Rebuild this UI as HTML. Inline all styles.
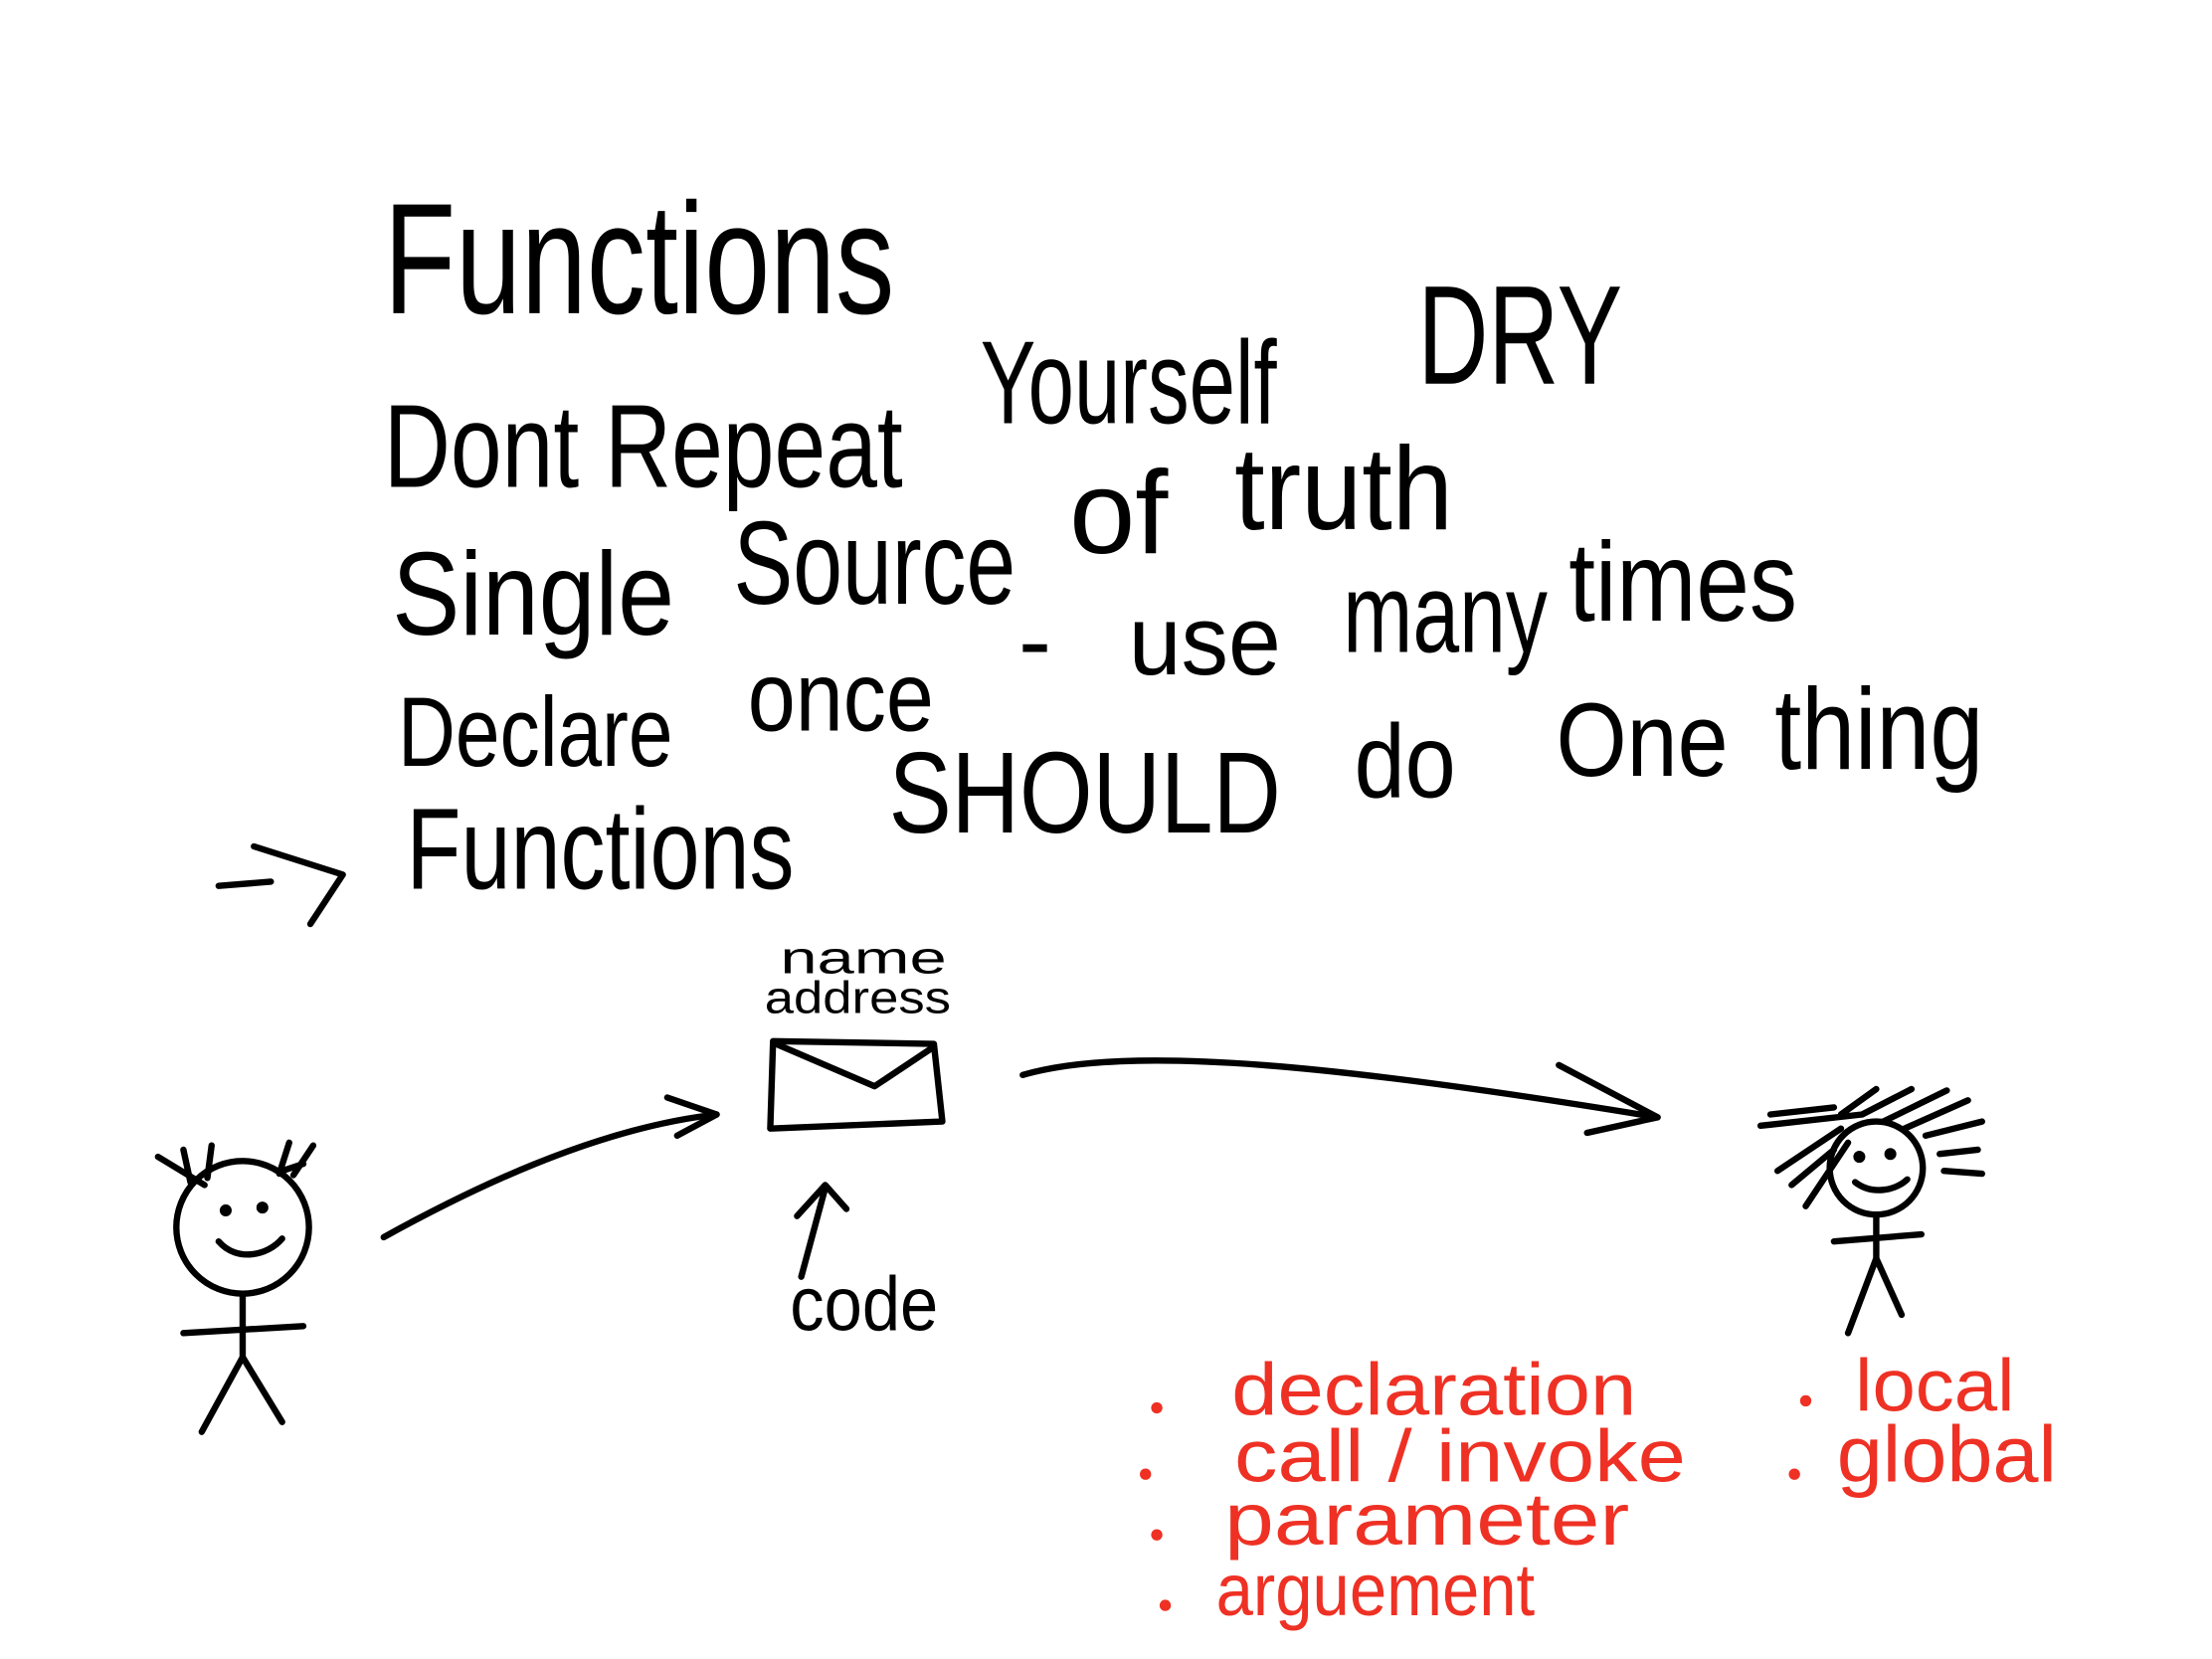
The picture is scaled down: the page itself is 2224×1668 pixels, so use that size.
<!DOCTYPE html>
<html><head><meta charset="utf-8">
<style>
html,body{margin:0;padding:0;background:#fff;}
svg{display:block;}
text{font-family:"Liberation Sans",sans-serif;}
</style></head>
<body>
<svg width="2224" height="1668" viewBox="0 0 1568 1176" preserveAspectRatio="none" xmlns="http://www.w3.org/2000/svg">
<rect width="1568" height="1176" fill="#fff"/>
<g fill="#000">
<text x="272" y="222" font-size="112" textLength="362" lengthAdjust="spacingAndGlyphs">Functions</text>
<text x="272" y="345" font-size="84" textLength="368" lengthAdjust="spacingAndGlyphs">Dont Repeat</text>
<text x="695" y="300" font-size="84" textLength="210" lengthAdjust="spacingAndGlyphs">Yourself</text>
<text x="1005" y="272" font-size="100" textLength="145" lengthAdjust="spacingAndGlyphs">DRY</text>
<text x="278" y="450" font-size="84" textLength="200" lengthAdjust="spacingAndGlyphs">Single</text>
<text x="520" y="428" font-size="84" textLength="200" lengthAdjust="spacingAndGlyphs">Source</text>
<text x="758" y="392" font-size="84" textLength="70" lengthAdjust="spacingAndGlyphs">of</text>
<text x="875" y="375" font-size="84" textLength="155" lengthAdjust="spacingAndGlyphs">truth</text>
<text x="282" y="543" font-size="70" textLength="195" lengthAdjust="spacingAndGlyphs">Declare</text>
<text x="530" y="518" font-size="70" textLength="132" lengthAdjust="spacingAndGlyphs">once</text>
<text x="722" y="478" font-size="70">-</text>
<text x="800" y="478" font-size="70" textLength="108" lengthAdjust="spacingAndGlyphs">use</text>
<text x="952" y="462" font-size="80" textLength="145" lengthAdjust="spacingAndGlyphs">many</text>
<text x="1112" y="440" font-size="80" textLength="162" lengthAdjust="spacingAndGlyphs">times</text>
<text x="288" y="630" font-size="82" textLength="275" lengthAdjust="spacingAndGlyphs">Functions</text>
<text x="630" y="590" font-size="82" textLength="278" lengthAdjust="spacingAndGlyphs">SHOULD</text>
<text x="960" y="565" font-size="74" textLength="72" lengthAdjust="spacingAndGlyphs">do</text>
<text x="1103" y="550" font-size="74" textLength="122" lengthAdjust="spacingAndGlyphs">One</text>
<text x="1258" y="545" font-size="82" textLength="148" lengthAdjust="spacingAndGlyphs">thing</text>
<text x="553" y="690" font-size="32" textLength="118" lengthAdjust="spacingAndGlyphs">name</text>
<text x="542" y="718" font-size="32" textLength="132" lengthAdjust="spacingAndGlyphs">address</text>
<text x="560" y="943" font-size="54" textLength="105" lengthAdjust="spacingAndGlyphs">code</text>
</g>
<g fill="none" stroke="#000" stroke-width="4.5" stroke-linecap="round" stroke-linejoin="round">
<path d="M155 628 L192 625"/><path d="M180 600 L243 620 L220 655"/>
<path d="M548 738 L662 740 L668 795 L546 800 Z"/>
<path d="M550 740 L620 770 L662 742"/>
<path d="M272 877 C330 845 420 800 508 790"/><path d="M473 778 L508 790 L480 805"/>
<path d="M725 762 C800 740 950 755 1175 792"/><path d="M1105 755 L1175 792 L1125 803"/>
<path d="M568 905 L585 842"/><path d="M565 862 L585 840 L600 857"/>
<circle cx="172" cy="870" r="47"/>
<path d="M145 840 L112 820 M135 838 L130 815 M147 835 L150 812"/>
<path d="M198 832 L205 810 M208 833 L222 812 M200 830 L215 825"/>
<circle cx="160" cy="858" r="2" fill="#000"/><circle cx="186" cy="856" r="2" fill="#000"/>
<path d="M155 880 C168 895 190 890 200 878"/>
<path d="M172 917 L172 962 M130 945 L215 940 M172 962 L143 1015 M172 962 L200 1008"/>
<circle cx="1330" cy="828" r="33"/>
<circle cx="1318" cy="820" r="2" fill="#000"/><circle cx="1340" cy="818" r="2" fill="#000"/>
<path d="M1315 838 C1328 848 1345 843 1352 836"/>
<path d="M1248 798 L1320 790 M1255 790 L1300 785 M1260 830 L1305 800 M1280 855 L1310 810 M1270 840 L1300 815 M1305 790 L1330 772 M1320 790 L1355 772 M1335 795 L1380 773 M1350 800 L1395 780 M1365 805 L1405 795 M1375 818 L1402 815 M1378 830 L1405 832"/>
<path d="M1330 862 L1330 892 M1300 880 L1362 875 M1330 892 L1310 945 M1330 892 L1348 932"/>
</g>
<g fill="#ee3124">
<text x="873" y="1003" font-size="52" textLength="287" lengthAdjust="spacingAndGlyphs">declaration</text>
<text x="875" y="1050" font-size="52" textLength="320" lengthAdjust="spacingAndGlyphs">call / invoke</text>
<text x="868" y="1095" font-size="52" textLength="287" lengthAdjust="spacingAndGlyphs">parameter</text>
<text x="862" y="1145" font-size="52" textLength="226" lengthAdjust="spacingAndGlyphs">arguement</text>
<text x="1315" y="1000" font-size="52" textLength="113" lengthAdjust="spacingAndGlyphs">local</text>
<text x="1302" y="1050" font-size="56" textLength="156" lengthAdjust="spacingAndGlyphs">global</text>
<circle cx="820" cy="998" r="4"/><circle cx="812" cy="1045" r="4"/>
<circle cx="820" cy="1088" r="4"/><circle cx="826" cy="1138" r="4"/>
<circle cx="1280" cy="993" r="4"/><circle cx="1272" cy="1045" r="4"/>
</g>
</svg>
</body></html>
